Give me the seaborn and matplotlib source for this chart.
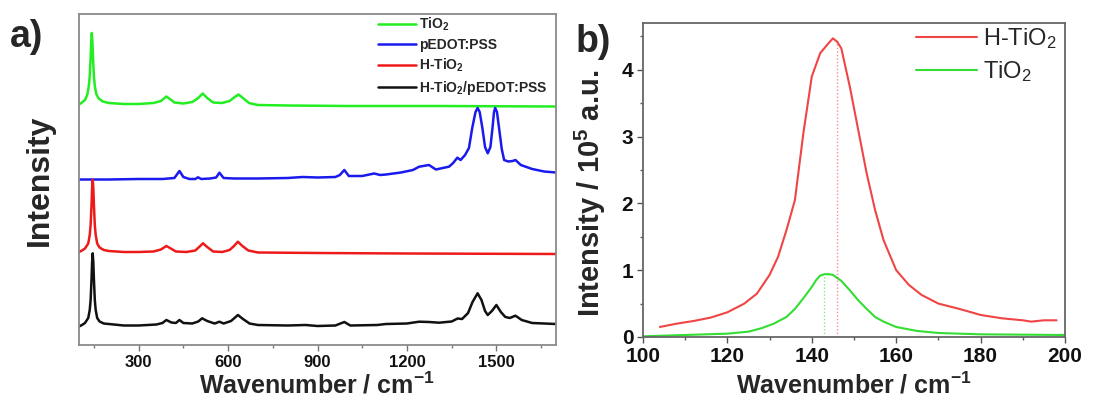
import numpy as np
import pandas as pd
import matplotlib
matplotlib.use("Agg")
import matplotlib.pyplot as plt
import seaborn as sns
from matplotlib.ticker import MultipleLocator

# ---------------- Panel a data (Raman spectra, stacked, arbitrary units) ----------------
tio2_x = [100, 110, 120, 128, 133, 136, 139, 141, 143, 145, 147, 150, 153, 158, 166, 180, 200,
          250, 300, 350, 375, 393, 405, 420, 450, 480, 500, 515, 530, 550, 580, 605, 620, 635,
          650, 670, 700, 800, 1000, 1300, 1700]
tio2_y = [240.5, 242.5, 245, 250.5, 259, 269, 287, 303, 312, 303, 287, 269, 259, 251, 246.5, 243.5, 242,
          241, 241, 242, 244, 248.5, 246, 242.5, 241.5, 243, 247, 251.5, 247, 242.5, 242, 244, 247.5, 250.5,
          247, 242, 240, 239.5, 239, 239, 238.5]

pedot_x = [100, 200, 300, 380, 420, 437, 450, 470, 490, 499, 510, 540, 560, 571, 585, 620, 700, 800,
           850, 900, 960, 975, 990, 1005, 1050, 1090, 1110, 1130, 1180, 1220, 1241, 1274, 1297, 1320,
           1341, 1355, 1369, 1380, 1395, 1408, 1419, 1430, 1437, 1444, 1453, 1462, 1471, 1480, 1487,
           1492, 1496, 1502, 1509, 1518, 1526, 1540, 1555, 1564, 1582, 1620, 1660, 1700]
pedot_y = [165.5, 165.5, 166, 166, 167, 174, 168, 166, 166, 167.7, 166, 166.5, 167.5, 172.3, 167, 166.5, 166.5, 167,
           168, 167.5, 168, 170, 175, 169, 169, 171.5, 170, 170.5, 172.5, 175, 178.3, 180, 175.5, 177,
           178.3, 182, 187.3, 185, 190, 197, 217, 233, 237, 233, 217, 198, 191.7, 198, 217,
           233, 237, 233, 217, 196, 185, 183.5, 184, 185, 180, 176, 173.5, 172.5]

htio2_x = [100, 110, 120, 131, 136, 139, 142, 144, 146, 148, 150, 153, 156, 161, 169, 183, 200,
           250, 300, 350, 375, 393, 408, 425, 460, 490, 503, 516, 530, 550, 580, 605, 620, 633,
           648, 668, 700, 900, 1200, 1700]
htio2_y = [93, 94.5, 96.5, 101.5, 110, 120, 140, 157, 165, 157, 140, 120, 110, 101.5, 97.5, 95, 94,
           93, 93, 93.5, 95.5, 99, 96.5, 93.5, 93, 94.5, 98, 101.7, 98, 93.5, 93, 95, 99, 103.3,
           99, 94.5, 92.5, 92, 91.5, 91]

mix_x = [100, 110, 120, 131, 136, 139, 142, 144, 146, 148, 150, 153, 156, 161, 169, 183, 200,
         250, 300, 330, 360, 380, 393, 410, 425, 437, 450, 480, 500, 513, 530, 555, 571, 585,
         610, 633, 650, 672, 700, 800, 860, 900, 960, 990, 1010, 1100, 1130, 1200, 1241, 1274,
         1308, 1350, 1370, 1385, 1405, 1420, 1437, 1450, 1462, 1471, 1485, 1500, 1515, 1530,
         1545, 1564, 1585, 1620, 1700]
mix_y = [18.5, 20, 22, 27, 35, 45, 66, 83, 91.7, 83, 66, 45, 35, 27, 23.5, 21.5, 21,
         19.5, 19.5, 20, 20.5, 22, 25, 22.5, 22, 25, 22, 21.5, 23.5, 26.7, 24, 21.5, 23.3, 21.5,
         24, 30, 26, 21.5, 20, 19.5, 20, 19, 19.5, 23, 19.5, 20, 21, 21.5, 23.3, 23,
         22.3, 23.5, 26.5, 26, 32, 43, 51.7, 45, 34, 30, 34, 40, 33, 28,
         27, 29.3, 25, 22, 21]

names_a = ["TiO$_\\mathbf{2}$", "pEDOT:PSS", "H-TiO$_\\mathbf{2}$", "H-TiO$_\\mathbf{2}$/pEDOT:PSS"]
colors_a = ["#22ee22", "#1a1aee", "#ee1a1a", "#111111"]

# ---------------- Panel b data (low-frequency Eg mode) ----------------
hb_x = [104, 108, 112, 116, 120, 124, 127, 130, 132, 134, 136, 138, 140, 142, 144, 145, 146, 147,
        149, 151, 153, 155, 157, 160, 163, 166, 170, 175, 180, 185, 190, 192, 195, 198]
hb_y = [0.15, 0.20, 0.24, 0.29, 0.37, 0.50, 0.65, 0.93, 1.20, 1.60, 2.05, 3.05, 3.90, 4.25, 4.40,
        4.47, 4.42, 4.32, 3.75, 3.10, 2.45, 1.90, 1.45, 1.00, 0.78, 0.63, 0.50, 0.42, 0.33, 0.28,
        0.25, 0.23, 0.25, 0.25]
tb_x = [100, 105, 110, 115, 120, 125, 128, 131, 134, 136, 138, 140, 141, 142, 143, 144, 145, 147,
        149, 151, 153, 155, 157, 160, 165, 170, 175, 180, 190, 200]
tb_y = [0.01, 0.02, 0.03, 0.04, 0.05, 0.08, 0.13, 0.20, 0.30, 0.42, 0.58, 0.75, 0.85, 0.92, 0.94,
        0.94, 0.93, 0.84, 0.70, 0.55, 0.42, 0.30, 0.23, 0.15, 0.09, 0.06, 0.05, 0.04, 0.035, 0.03]
names_b = ["H-TiO$_2$", "TiO$_2$"]
colors_b = ["#f04545", "#33dd33"]
peak_pos = [146, 143]
peak_val = [4.45, 0.94]

# ---------------- style ----------------
sns.set_theme(style="white")
plt.rcParams["font.family"] = ["Liberation Sans", "DejaVu Sans"]
plt.rcParams["mathtext.fontset"] = "custom"
plt.rcParams["mathtext.rm"] = "Liberation Sans"
plt.rcParams["mathtext.bf"] = "Liberation Sans:bold"
plt.rcParams["mathtext.it"] = "Liberation Sans:italic"

W, H = 1102, 401
fig = plt.figure(figsize=(W / 100, H / 100), dpi=100)

def box(l, t, r, b):
    return [l / W, 1 - b / H, (r - l) / W, (b - t) / H]

axa = fig.add_axes(box(79, 14, 556, 345))
axb = fig.add_axes(box(643, 23, 1065, 337))

# ---- panel a ----
dfa = pd.concat([
    pd.DataFrame({"x": tio2_x, "y": tio2_y, "s": names_a[0]}),
    pd.DataFrame({"x": pedot_x, "y": pedot_y, "s": names_a[1]}),
    pd.DataFrame({"x": htio2_x, "y": htio2_y, "s": names_a[2]}),
    pd.DataFrame({"x": mix_x, "y": mix_y, "s": names_a[3]}),
])
sns.lineplot(data=dfa, x="x", y="y", hue="s", hue_order=names_a, palette=colors_a,
             sort=False, estimator=None, linewidth=1.8, ax=axa, legend=False)
axa.set_xlim(100, 1700)
axa.set_ylim(0, 331)
axa.xaxis.set_major_locator(MultipleLocator(300))
axa.xaxis.set_minor_locator(MultipleLocator(150))
axa.set_yticks([])
axa.set_xlabel("")
axa.set_ylabel("")
axa.tick_params(axis="x", which="both", direction="out", bottom=True, colors="#777777",
                labelcolor="#111111", labelsize=12, pad=3)
axa.tick_params(axis="x", which="major", length=4, width=1)
axa.tick_params(axis="x", which="minor", length=2.5, width=1)
for lab in axa.get_xticklabels():
    lab.set_fontweight("bold")
for sp in axa.spines.values():
    sp.set_color("#8a8a8a")
    sp.set_linewidth(1.3)
la = axa.legend(axa.get_lines(), names_a, loc="upper right", bbox_to_anchor=(0.983, 0.995),
                frameon=False, borderpad=0, borderaxespad=0, handlelength=2.7,
                handletextpad=0.25, labelspacing=0.35, prop={"weight": "bold", "size": 10})

# ---- panel b ----
dfb = pd.concat([
    pd.DataFrame({"x": hb_x, "y": hb_y, "s": names_b[0]}),
    pd.DataFrame({"x": tb_x, "y": tb_y, "s": names_b[1]}),
])
sns.lineplot(data=dfb, x="x", y="y", hue="s", hue_order=names_b, palette=colors_b,
             sort=False, estimator=None, linewidth=1.5, ax=axb, legend=False)
for p, v, c in zip(peak_pos, peak_val, colors_b):
    axb.vlines(p, 0, v, colors=c, linestyles=(0, (1, 1.5)), linewidth=1.0, alpha=0.6)
axb.set_xlim(100, 200)
axb.set_ylim(0, 4.7)
axb.xaxis.set_major_locator(MultipleLocator(20))
axb.xaxis.set_minor_locator(MultipleLocator(10))
axb.yaxis.set_major_locator(MultipleLocator(1))
axb.yaxis.set_minor_locator(MultipleLocator(0.5))
axb.set_xlabel("")
axb.set_ylabel("")
axb.tick_params(axis="both", which="both", direction="out", bottom=True, left=True,
                colors="#555555", labelcolor="#111111", labelsize=15, pad=3)
axb.tick_params(axis="both", which="major", length=4, width=1)
axb.tick_params(axis="both", which="minor", length=2.5, width=1)
for lab in axb.get_xticklabels() + axb.get_yticklabels():
    lab.set_fontweight("bold")
for sp in axb.spines.values():
    sp.set_color("#666666")
    sp.set_linewidth(1.3)
lb = axb.legend(axb.get_lines()[:2], names_b, loc="upper right", bbox_to_anchor=(0.981, 0.99),
                frameon=False, borderpad=0, borderaxespad=0, handlelength=2.6,
                handletextpad=0.25, labelspacing=0.35, prop={"size": 17})

# ---- labels ----
fig.text(10 / W, 1 - 37 / H, "a)", fontsize=27, fontweight="bold", ha="left", va="center")
fig.text(576 / W, 1 - 42 / H, "b)", fontsize=27, fontweight="bold", ha="left", va="center")
fig.text(40 / W, 1 - 180 / H, "Intensity", rotation=90, fontsize=23, fontweight="bold",
         ha="center", va="center")
fig.text(590 / W, 1 - 193 / H, "Intensity / 10$^\\mathbf{5}$ a.u.", rotation=90, fontsize=21,
         fontweight="bold", ha="center", va="center")
fig.text(317 / W, 1 - 394 / H, "Wavenumber / cm$^\\mathbf{-1}$", fontsize=18, fontweight="bold",
         ha="center", va="baseline")
fig.text(854 / W, 1 - 394 / H, "Wavenumber / cm$^\\mathbf{-1}$", fontsize=18, fontweight="bold",
         ha="center", va="baseline")

fig.savefig("out.png", dpi=100, facecolor="white")
